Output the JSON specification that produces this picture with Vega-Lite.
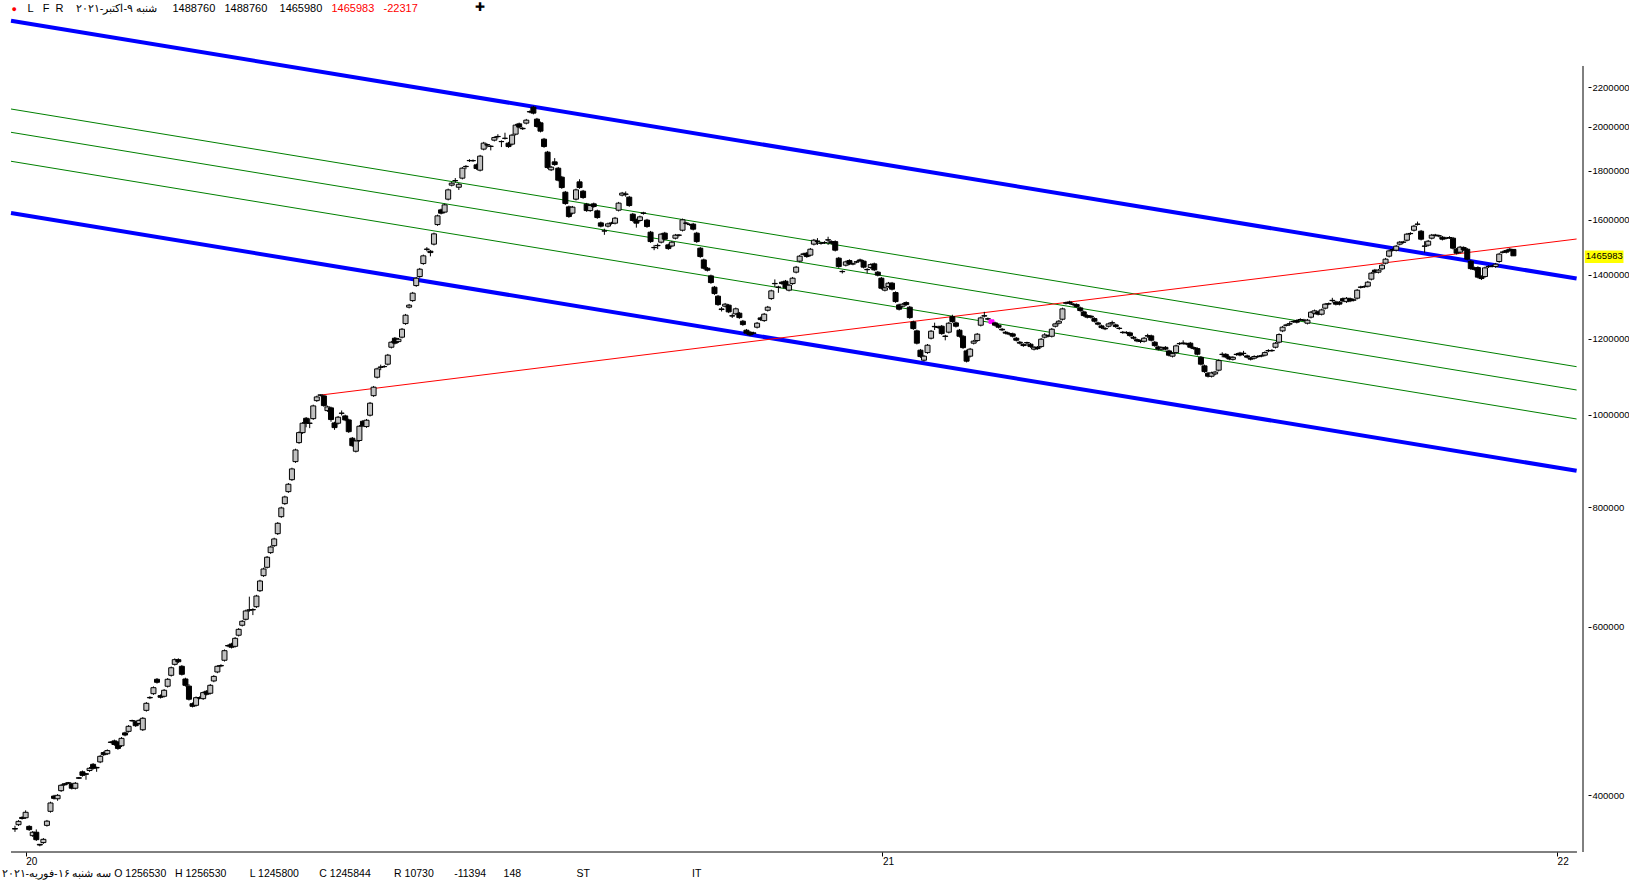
{
"$schema": "https://vega.github.io/schema/vega-lite/v6.json",
"width": 1582,
"height": 835,
"autosize": {"type": "none"},
"padding": {"left": 6, "top": 17, "right": 41, "bottom": 29},
"background": "white",
"config": {"view": {"stroke": null}, "font": "Liberation Sans"},
"resolve": {"scale": {"x": "shared", "y": "shared"}, "axis": {"x": "independent", "y": "independent"}},
"datasets": {
"lines": [
{"line": "upper", "g": "blue", "i": -1.12, "v": 2583000}, {"line": "upper", "g": "blue", "i": 439.8, "v": 1388000},
{"line": "lower", "g": "blue", "i": -1.12, "v": 1625500}, {"line": "lower", "g": "blue", "i": 439.8, "v": 873500},
{"line": "g1", "g": "green", "i": -1.12, "v": 2088000}, {"line": "g1", "g": "green", "i": 439.8, "v": 1122400},
{"line": "g2", "g": "green", "i": -1.12, "v": 1974000}, {"line": "g2", "g": "green", "i": 439.8, "v": 1061200},
{"line": "g3", "g": "green", "i": -1.12, "v": 1841000}, {"line": "g3", "g": "green", "i": 439.8, "v": 989600},
{"line": "red", "g": "red", "i": 86.3, "v": 1048500}, {"line": "red", "g": "red", "i": 439.8, "v": 1526600}
],
"last": [{"v": 1465983}],
"candles": [
{"i":0,"o":369000,"h":371500,"l":366000,"c":368500},
{"i":1,"o":372400,"h":376500,"l":371300,"c":375400},
{"i":2,"o":379000,"h":380000,"l":377000,"c":378000},
{"i":3,"o":378700,"h":385500,"l":377600,"c":383700},
{"i":4,"o":370900,"h":371900,"l":366900,"c":368000},
{"i":5,"o":362700,"h":366800,"l":361600,"c":365700},
{"i":6,"o":365700,"h":368200,"l":358100,"c":359200},
{"i":7,"o":355200,"h":355500,"l":353500,"c":354600},
{"i":8,"o":356700,"h":360600,"l":355600,"c":359500},
{"i":9,"o":371800,"h":376700,"l":370700,"c":375600},
{"i":10,"o":384600,"h":393600,"l":383400,"c":392400},
{"i":11,"o":399000,"h":400200,"l":395600,"c":396800},
{"i":12,"o":396400,"h":400900,"l":394500,"c":399700},
{"i":13,"o":404200,"h":410700,"l":403000,"c":409500},
{"i":14,"o":411000,"h":411800,"l":409000,"c":410000},
{"i":15,"o":412000,"h":412800,"l":410700,"c":411500},
{"i":16,"o":410800,"h":412000,"l":405400,"c":406600},
{"i":17,"o":406600,"h":412700,"l":405400,"c":411500},
{"i":18,"o":417000,"h":417800,"l":415700,"c":416500},
{"i":19,"o":423000,"h":424300,"l":418100,"c":419400},
{"i":20,"o":421000,"h":421800,"l":415000,"c":420500},
{"i":21,"o":424300,"h":427900,"l":423000,"c":426600},
{"i":22,"o":430700,"h":432000,"l":425300,"c":426600},
{"i":23,"o":427500,"h":428300,"l":423000,"c":427000},
{"i":24,"o":433200,"h":440400,"l":431900,"c":439100},
{"i":25,"o":443100,"h":444400,"l":439500,"c":440800},
{"i":26,"o":441800,"h":446500,"l":440500,"c":445200},
{"i":27,"o":454500,"h":455400,"l":453100,"c":454000},
{"i":28,"o":455700,"h":457100,"l":450400,"c":451800},
{"i":29,"o":454300,"h":455700,"l":446000,"c":447500},
{"i":30,"o":450400,"h":459900,"l":449000,"c":458500},
{"i":31,"o":464600,"h":466000,"l":460800,"c":462200},
{"i":32,"o":466300,"h":473400,"l":464900,"c":472000},
{"i":33,"o":478600,"h":479600,"l":477200,"c":478200},
{"i":34,"o":477300,"h":478700,"l":471300,"c":472700},
{"i":35,"o":475200,"h":480200,"l":473800,"c":478800},
{"i":36,"o":468100,"h":482600,"l":466700,"c":481200},
{"i":37,"o":490500,"h":500400,"l":489000,"c":498900},
{"i":38,"o":506000,"h":507500,"l":504000,"c":505500},
{"i":39,"o":510600,"h":519600,"l":509100,"c":518000},
{"i":40,"o":528600,"h":530200,"l":523200,"c":524800},
{"i":41,"o":508200,"h":509700,"l":504700,"c":506200},
{"i":42,"o":507400,"h":516300,"l":505900,"c":514800},
{"i":43,"o":519800,"h":530200,"l":518200,"c":528600},
{"i":44,"o":533700,"h":545100,"l":532100,"c":543500},
{"i":45,"o":548000,"h":555900,"l":546400,"c":554200},
{"i":46,"o":554200,"h":556000,"l":549700,"c":551400},
{"i":47,"o":545400,"h":547000,"l":533400,"c":535000},
{"i":48,"o":529000,"h":530600,"l":519400,"c":521000},
{"i":49,"o":520000,"h":522500,"l":502300,"c":503800},
{"i":50,"o":498400,"h":499900,"l":494000,"c":495300},
{"i":51,"o":496500,"h":507200,"l":495000,"c":505700},
{"i":52,"o":505800,"h":507300,"l":503700,"c":505200},
{"i":53,"o":504500,"h":513400,"l":503000,"c":511900},
{"i":54,"o":513600,"h":515100,"l":508400,"c":509900},
{"i":55,"o":511100,"h":522600,"l":509600,"c":521000},
{"i":56,"o":526500,"h":533900,"l":524900,"c":532300},
{"i":57,"o":538000,"h":547000,"l":536400,"c":545400},
{"i":58,"o":546500,"h":548100,"l":544300,"c":545900},
{"i":59,"o":553400,"h":568000,"l":551700,"c":566300},
{"i":60,"o":573400,"h":575100,"l":571100,"c":572800},
{"i":61,"o":575500,"h":577200,"l":569300,"c":571000},
{"i":62,"o":572300,"h":585200,"l":570600,"c":583400},
{"i":63,"o":587800,"h":598000,"l":586000,"c":596200},
{"i":64,"o":602100,"h":609700,"l":600300,"c":607900},
{"i":65,"o":610800,"h":625100,"l":609000,"c":623200},
{"i":66,"o":624800,"h":645000,"l":622000,"c":624400},
{"i":67,"o":625300,"h":627200,"l":617000,"c":624800},
{"i":68,"o":629600,"h":647900,"l":627700,"c":646000},
{"i":69,"o":654300,"h":671800,"l":652300,"c":669800},
{"i":70,"o":678500,"h":691600,"l":676500,"c":689500},
{"i":71,"o":692300,"h":711400,"l":690200,"c":709300},
{"i":72,"o":717200,"h":729200,"l":715000,"c":727000},
{"i":73,"o":729300,"h":743400,"l":727100,"c":741200},
{"i":74,"o":750700,"h":772000,"l":748400,"c":769700},
{"i":75,"o":782100,"h":801100,"l":779800,"c":798700},
{"i":76,"o":807000,"h":822600,"l":804600,"c":820100},
{"i":77,"o":830700,"h":848100,"l":828200,"c":845600},
{"i":78,"o":855000,"h":880000,"l":852400,"c":877400},
{"i":79,"o":893000,"h":921200,"l":890300,"c":918400},
{"i":80,"o":934800,"h":960500,"l":932000,"c":957600},
{"i":81,"o":957600,"h":982400,"l":954700,"c":979500},
{"i":82,"o":991300,"h":994300,"l":970000,"c":979500},
{"i":83,"o":979800,"h":991000,"l":968000,"c":979200},
{"i":84,"o":990400,"h":1024300,"l":987400,"c":1021200},
{"i":85,"o":1034300,"h":1046700,"l":1031200,"c":1043600},
{"i":86,"o":1048500,"h":1050000,"l":1045000,"c":1048000},
{"i":87,"o":1046100,"h":1049200,"l":1018900,"c":1022000},
{"i":88,"o":1009700,"h":1021900,"l":1006700,"c":1018800},
{"i":89,"o":1016400,"h":1019400,"l":983000,"c":988200},
{"i":90,"o":980200,"h":983100,"l":964000,"c":969200},
{"i":91,"o":979500,"h":996800,"l":976600,"c":993800},
{"i":92,"o":1003600,"h":1010000,"l":998000,"c":1003200},
{"i":93,"o":996900,"h":999900,"l":984300,"c":987300},
{"i":94,"o":987300,"h":990300,"l":956900,"c":959800},
{"i":95,"o":944700,"h":947500,"l":925200,"c":928000},
{"i":96,"o":915600,"h":941300,"l":912900,"c":938500},
{"i":97,"o":939600,"h":975300,"l":936800,"c":972400},
{"i":98,"o":984200,"h":987200,"l":970300,"c":973200},
{"i":99,"o":971600,"h":989600,"l":968700,"c":986600},
{"i":100,"o":998600,"h":1031000,"l":995600,"c":1027900},
{"i":101,"o":1046800,"h":1071500,"l":1043700,"c":1068300},
{"i":102,"o":1094300,"h":1119800,"l":1091000,"c":1116500},
{"i":103,"o":1121500,"h":1128000,"l":1113000,"c":1120800},
{"i":104,"o":1123000,"h":1126400,"l":1119600,"c":1122500},
{"i":105,"o":1129200,"h":1157500,"l":1125800,"c":1154000},
{"i":106,"o":1176300,"h":1194200,"l":1172800,"c":1190600},
{"i":107,"o":1202100,"h":1205700,"l":1184200,"c":1187800},
{"i":108,"o":1192300,"h":1202800,"l":1188700,"c":1199200},
{"i":109,"o":1205100,"h":1232100,"l":1201500,"c":1228400},
{"i":110,"o":1245200,"h":1274500,"l":1241500,"c":1270700},
{"i":111,"o":1295400,"h":1305600,"l":1291500,"c":1301700},
{"i":112,"o":1316100,"h":1343900,"l":1312200,"c":1339900},
{"i":113,"o":1364600,"h":1393300,"l":1360500,"c":1389100},
{"i":114,"o":1394600,"h":1423800,"l":1390400,"c":1419500},
{"i":115,"o":1438900,"h":1470300,"l":1434600,"c":1465900},
{"i":116,"o":1490000,"h":1497000,"l":1482000,"c":1489000},
{"i":117,"o":1482500,"h":1487000,"l":1464000,"c":1477500},
{"i":118,"o":1507800,"h":1550200,"l":1503300,"c":1545600},
{"i":119,"o":1580600,"h":1618900,"l":1575900,"c":1614100},
{"i":120,"o":1637600,"h":1642500,"l":1619700,"c":1624600},
{"i":121,"o":1628800,"h":1662500,"l":1623900,"c":1657500},
{"i":122,"o":1680300,"h":1723600,"l":1675300,"c":1718400},
{"i":123,"o":1738000,"h":1751600,"l":1732800,"c":1746400},
{"i":124,"o":1757500,"h":1768000,"l":1748000,"c":1756500},
{"i":125,"o":1729300,"h":1747000,"l":1718000,"c":1741800},
{"i":126,"o":1767600,"h":1816000,"l":1762300,"c":1810600},
{"i":127,"o":1818500,"h":1824000,"l":1806000,"c":1817500},
{"i":128,"o":1844500,"h":1850000,"l":1838000,"c":1843500},
{"i":129,"o":1844000,"h":1849000,"l":1838000,"c":1843500},
{"i":130,"o":1825200,"h":1830700,"l":1803600,"c":1809000},
{"i":131,"o":1801900,"h":1869500,"l":1796500,"c":1863900},
{"i":132,"o":1895700,"h":1929000,"l":1890000,"c":1923200},
{"i":133,"o":1916000,"h":1921000,"l":1903000,"c":1914500},
{"i":134,"o":1909000,"h":1914000,"l":1890000,"c":1908000},
{"i":135,"o":1937000,"h":1955000,"l":1931200,"c":1949200},
{"i":136,"o":1954500,"h":1965000,"l":1945000,"c":1953500},
{"i":137,"o":1931000,"h":1936000,"l":1905000,"c":1930000},
{"i":138,"o":1946000,"h":1972000,"l":1940000,"c":1945500},
{"i":139,"o":1923200,"h":1929000,"l":1901600,"c":1907300},
{"i":140,"o":1918500,"h":1966500,"l":1912700,"c":1960600},
{"i":141,"o":1965300,"h":2014400,"l":1959400,"c":2008400},
{"i":142,"o":2014700,"h":2020700,"l":1992900,"c":1998900},
{"i":143,"o":1993000,"h":1999000,"l":1985000,"c":1991000},
{"i":144,"o":2018100,"h":2038700,"l":2012000,"c":2032600},
{"i":145,"o":2075000,"h":2081000,"l":2067000,"c":2073000},
{"i":146,"o":2097500,"h":2104000,"l":2061100,"c":2067300},
{"i":147,"o":2037600,"h":2043700,"l":1995800,"c":2001800},
{"i":148,"o":2019600,"h":2025700,"l":1973600,"c":1979500},
{"i":149,"o":1941700,"h":1947500,"l":1901800,"c":1907500},
{"i":150,"o":1881900,"h":1887500,"l":1807900,"c":1813300},
{"i":151,"o":1803400,"h":1820400,"l":1798000,"c":1815000},
{"i":152,"o":1838400,"h":1855000,"l":1821000,"c":1826500},
{"i":153,"o":1810600,"h":1816000,"l":1753700,"c":1759000},
{"i":154,"o":1771800,"h":1777100,"l":1722800,"c":1728000},
{"i":155,"o":1708900,"h":1714000,"l":1657700,"c":1662700},
{"i":156,"o":1649500,"h":1654400,"l":1606600,"c":1611400},
{"i":157,"o":1624600,"h":1653200,"l":1619700,"c":1648300},
{"i":158,"o":1680300,"h":1723600,"l":1675300,"c":1718400},
{"i":159,"o":1751900,"h":1763000,"l":1722800,"c":1728000},
{"i":160,"o":1713100,"h":1718200,"l":1681800,"c":1686900},
{"i":161,"o":1660300,"h":1665300,"l":1629900,"c":1634800},
{"i":162,"o":1634800,"h":1660000,"l":1629900,"c":1655000},
{"i":163,"o":1661500,"h":1666500,"l":1645800,"c":1650800},
{"i":164,"o":1633600,"h":1638500,"l":1602700,"c":1607500},
{"i":165,"o":1587100,"h":1591900,"l":1569900,"c":1574600},
{"i":166,"o":1557000,"h":1565000,"l":1542000,"c":1556000},
{"i":167,"o":1574600,"h":1588100,"l":1569900,"c":1583300},
{"i":168,"o":1586500,"h":1591300,"l":1580700,"c":1585500},
{"i":169,"o":1586000,"h":1610000,"l":1581200,"c":1605200},
{"i":170,"o":1636300,"h":1669300,"l":1631400,"c":1664300},
{"i":171,"o":1696700,"h":1710000,"l":1691600,"c":1704900},
{"i":172,"o":1701300,"h":1712000,"l":1690000,"c":1700300},
{"i":173,"o":1688500,"h":1693600,"l":1649700,"c":1654700},
{"i":174,"o":1620700,"h":1625600,"l":1591400,"c":1596200},
{"i":175,"o":1598900,"h":1603700,"l":1569000,"c":1586000},
{"i":176,"o":1596200,"h":1615100,"l":1591400,"c":1610300},
{"i":177,"o":1625500,"h":1630000,"l":1619000,"c":1624000},
{"i":178,"o":1597700,"h":1602500,"l":1568400,"c":1573100},
{"i":179,"o":1551900,"h":1556600,"l":1512600,"c":1517200},
{"i":180,"o":1496000,"h":1505000,"l":1486000,"c":1495000},
{"i":181,"o":1503200,"h":1510000,"l":1490000,"c":1502200},
{"i":182,"o":1515000,"h":1549100,"l":1510500,"c":1544500},
{"i":183,"o":1548300,"h":1553000,"l":1521400,"c":1526000},
{"i":184,"o":1505200,"h":1509700,"l":1487300,"c":1491800},
{"i":185,"o":1501200,"h":1519500,"l":1496700,"c":1515000},
{"i":186,"o":1529600,"h":1545400,"l":1525000,"c":1540800},
{"i":187,"o":1541000,"h":1545000,"l":1536000,"c":1540500},
{"i":188,"o":1559300,"h":1603700,"l":1554600,"c":1598900},
{"i":189,"o":1586500,"h":1591000,"l":1581000,"c":1585500},
{"i":190,"o":1581000,"h":1585500,"l":1576000,"c":1580500},
{"i":191,"o":1582200,"h":1587000,"l":1558500,"c":1563200},
{"i":192,"o":1548300,"h":1553000,"l":1512600,"c":1517200},
{"i":193,"o":1493200,"h":1497700,"l":1459000,"c":1463400},
{"i":194,"o":1451600,"h":1456000,"l":1418600,"c":1422900},
{"i":195,"o":1422900,"h":1427200,"l":1411800,"c":1416000},
{"i":196,"o":1396900,"h":1401100,"l":1370400,"c":1374500},
{"i":197,"o":1359300,"h":1363400,"l":1334600,"c":1338600},
{"i":198,"o":1330200,"h":1334200,"l":1299600,"c":1303500},
{"i":199,"o":1290000,"h":1296000,"l":1282000,"c":1288000},
{"i":200,"o":1298500,"h":1308700,"l":1294600,"c":1304800},
{"i":201,"o":1301700,"h":1305600,"l":1277000,"c":1280800},
{"i":202,"o":1269000,"h":1276000,"l":1262000,"c":1268000},
{"i":203,"o":1274700,"h":1294200,"l":1270900,"c":1290300},
{"i":204,"o":1276800,"h":1280600,"l":1259500,"c":1263300},
{"i":205,"o":1252400,"h":1256200,"l":1238500,"c":1242200},
{"i":206,"o":1225500,"h":1229200,"l":1213200,"c":1216800},
{"i":207,"o":1219700,"h":1223400,"l":1208200,"c":1211800},
{"i":208,"o":1217500,"h":1221000,"l":1213000,"c":1216500},
{"i":209,"o":1234400,"h":1250100,"l":1230700,"c":1246400},
{"i":210,"o":1262400,"h":1266200,"l":1253400,"c":1257200},
{"i":211,"o":1254200,"h":1277500,"l":1250400,"c":1273700},
{"i":212,"o":1285900,"h":1299300,"l":1282000,"c":1295400},
{"i":213,"o":1322500,"h":1351300,"l":1318500,"c":1347300},
{"i":214,"o":1371700,"h":1385000,"l":1360000,"c":1370700},
{"i":215,"o":1359800,"h":1364000,"l":1341000,"c":1358800},
{"i":216,"o":1375800,"h":1379900,"l":1367100,"c":1371200},
{"i":217,"o":1379100,"h":1383200,"l":1353000,"c":1357100},
{"i":218,"o":1349500,"h":1370000,"l":1345500,"c":1365900},
{"i":219,"o":1371200,"h":1393300,"l":1367100,"c":1389100},
{"i":220,"o":1409400,"h":1430800,"l":1405200,"c":1426500},
{"i":221,"o":1447200,"h":1469200,"l":1442900,"c":1464800},
{"i":222,"o":1472500,"h":1477000,"l":1467000,"c":1471500},
{"i":223,"o":1475400,"h":1479800,"l":1459000,"c":1463400},
{"i":224,"o":1468300,"h":1494000,"l":1463900,"c":1489500},
{"i":225,"o":1507800,"h":1526800,"l":1503300,"c":1522200},
{"i":226,"o":1519000,"h":1530000,"l":1505000,"c":1518000},
{"i":227,"o":1511800,"h":1516000,"l":1506000,"c":1510800},
{"i":228,"o":1514000,"h":1518500,"l":1508500,"c":1513000},
{"i":229,"o":1523700,"h":1535000,"l":1505000,"c":1522700},
{"i":230,"o":1517000,"h":1521600,"l":1506800,"c":1511300},
{"i":231,"o":1517000,"h":1521600,"l":1481500,"c":1486000},
{"i":232,"o":1457700,"h":1462100,"l":1424200,"c":1428500},
{"i":233,"o":1412000,"h":1416000,"l":1405000,"c":1411000},
{"i":234,"o":1433300,"h":1449100,"l":1429000,"c":1444800},
{"i":235,"o":1449300,"h":1453600,"l":1433600,"c":1437900},
{"i":236,"o":1438000,"h":1442000,"l":1433000,"c":1437500},
{"i":237,"o":1445000,"h":1449000,"l":1440000,"c":1444000},
{"i":238,"o":1451600,"h":1456000,"l":1443700,"c":1448000},
{"i":239,"o":1447200,"h":1451500,"l":1422200,"c":1426500},
{"i":240,"o":1418800,"h":1423000,"l":1405000,"c":1417800},
{"i":241,"o":1425200,"h":1439700,"l":1420900,"c":1435400},
{"i":242,"o":1437900,"h":1442200,"l":1413000,"c":1417300},
{"i":243,"o":1409400,"h":1413600,"l":1395100,"c":1399300},
{"i":244,"o":1389100,"h":1393300,"l":1351800,"c":1355900},
{"i":245,"o":1349500,"h":1361200,"l":1345500,"c":1357100},
{"i":246,"o":1361300,"h":1376600,"l":1357200,"c":1372500},
{"i":247,"o":1372500,"h":1376600,"l":1348700,"c":1352800},
{"i":248,"o":1341800,"h":1345800,"l":1309100,"c":1313000},
{"i":249,"o":1302600,"h":1306500,"l":1285200,"c":1289100},
{"i":250,"o":1298500,"h":1308700,"l":1294600,"c":1304800},
{"i":251,"o":1309800,"h":1313700,"l":1299600,"c":1303500},
{"i":252,"o":1295400,"h":1299300,"l":1259500,"c":1263300},
{"i":253,"o":1250300,"h":1254100,"l":1226600,"c":1230300},
{"i":254,"o":1223500,"h":1227200,"l":1184200,"c":1187800},
{"i":255,"o":1167900,"h":1171400,"l":1146600,"c":1150100},
{"i":256,"o":1140100,"h":1154700,"l":1136700,"c":1151200},
{"i":257,"o":1161200,"h":1185500,"l":1157700,"c":1182000},
{"i":258,"o":1202100,"h":1226300,"l":1198500,"c":1222600},
{"i":259,"o":1236800,"h":1248000,"l":1226000,"c":1235800},
{"i":260,"o":1235000,"h":1239000,"l":1229500,"c":1233500},
{"i":261,"o":1237300,"h":1241000,"l":1212000,"c":1215600},
{"i":262,"o":1208300,"h":1212000,"l":1196000,"c":1207300},
{"i":263,"o":1219700,"h":1250100,"l":1216000,"c":1246400},
{"i":264,"o":1266300,"h":1272000,"l":1247500,"c":1251300},
{"i":265,"o":1247300,"h":1251000,"l":1233600,"c":1237300},
{"i":266,"o":1225500,"h":1229200,"l":1204200,"c":1207800},
{"i":267,"o":1207800,"h":1211400,"l":1171700,"c":1175200},
{"i":268,"o":1165900,"h":1169400,"l":1134000,"c":1137400},
{"i":269,"o":1151200,"h":1174300,"l":1147700,"c":1170800},
{"i":270,"o":1187800,"h":1197200,"l":1184200,"c":1193600},
{"i":271,"o":1195300,"h":1217400,"l":1191700,"c":1213800},
{"i":272,"o":1240400,"h":1266200,"l":1236700,"c":1262400},
{"i":273,"o":1269000,"h":1281000,"l":1264000,"c":1268000},
{"i":274,"o":1259700,"h":1263500,"l":1255000,"c":1258700},
{"i":275,"o":1256530,"h":1256530,"l":1245800,"c":1245844},
{"i":276,"o":1247300,"h":1251000,"l":1236700,"c":1240400},
{"i":277,"o":1240400,"h":1244100,"l":1230700,"c":1234400},
{"i":278,"o":1228400,"h":1232100,"l":1222700,"c":1226400},
{"i":279,"o":1219700,"h":1223400,"l":1213200,"c":1216800},
{"i":280,"o":1216000,"h":1219600,"l":1210400,"c":1214000},
{"i":281,"o":1214700,"h":1218300,"l":1204400,"c":1208000},
{"i":282,"o":1202100,"h":1205700,"l":1192700,"c":1196300},
{"i":283,"o":1190600,"h":1194200,"l":1184200,"c":1187800},
{"i":284,"o":1183800,"h":1187400,"l":1177500,"c":1181000},
{"i":285,"o":1189500,"h":1192000,"l":1180000,"c":1188500},
{"i":286,"o":1184900,"h":1188500,"l":1174600,"c":1178100},
{"i":287,"o":1170800,"h":1179800,"l":1167300,"c":1176300},
{"i":288,"o":1176300,"h":1179800,"l":1168900,"c":1172400},
{"i":289,"o":1178100,"h":1202800,"l":1174600,"c":1199200},
{"i":290,"o":1205100,"h":1217000,"l":1201500,"c":1211800},
{"i":291,"o":1209500,"h":1213100,"l":1204900,"c":1208500},
{"i":292,"o":1207800,"h":1232100,"l":1204200,"c":1228400},
{"i":293,"o":1237300,"h":1248000,"l":1233600,"c":1244300},
{"i":294,"o":1246400,"h":1256200,"l":1242700,"c":1252400},
{"i":295,"o":1258400,"h":1294000,"l":1254600,"c":1290100},
{"i":296,"o":1309000,"h":1313000,"l":1304000,"c":1308000},
{"i":297,"o":1311700,"h":1315600,"l":1303700,"c":1307600},
{"i":298,"o":1305000,"h":1309000,"l":1298000,"c":1304000},
{"i":299,"o":1303500,"h":1307400,"l":1293400,"c":1297300},
{"i":300,"o":1293200,"h":1297100,"l":1281000,"c":1284900},
{"i":301,"o":1280800,"h":1284600,"l":1265700,"c":1269500},
{"i":302,"o":1269500,"h":1273300,"l":1260800,"c":1264600},
{"i":303,"o":1267700,"h":1271500,"l":1260800,"c":1264600},
{"i":304,"o":1260300,"h":1264100,"l":1248600,"c":1252400},
{"i":305,"o":1247300,"h":1251000,"l":1239700,"c":1243400},
{"i":306,"o":1238300,"h":1242000,"l":1229500,"c":1233200},
{"i":307,"o":1231000,"h":1234700,"l":1225800,"c":1229500},
{"i":308,"o":1237300,"h":1248000,"l":1233600,"c":1244300},
{"i":309,"o":1247800,"h":1254000,"l":1241000,"c":1246800},
{"i":310,"o":1241300,"h":1245000,"l":1232600,"c":1236300},
{"i":311,"o":1231500,"h":1235200,"l":1226800,"c":1230500},
{"i":312,"o":1219500,"h":1223200,"l":1214800,"c":1218500},
{"i":313,"o":1219000,"h":1222700,"l":1214300,"c":1218000},
{"i":314,"o":1217600,"h":1221300,"l":1206100,"c":1209700},
{"i":315,"o":1205100,"h":1208700,"l":1198500,"c":1202100},
{"i":316,"o":1198000,"h":1201600,"l":1190600,"c":1194200},
{"i":317,"o":1193500,"h":1198000,"l":1188000,"c":1192800},
{"i":318,"o":1193300,"h":1205700,"l":1189700,"c":1202100},
{"i":319,"o":1209500,"h":1215000,"l":1203000,"c":1208300},
{"i":320,"o":1208900,"h":1212500,"l":1192700,"c":1196300},
{"i":321,"o":1190600,"h":1194200,"l":1177400,"c":1180900},
{"i":322,"o":1177200,"h":1180700,"l":1167300,"c":1170800},
{"i":323,"o":1170800,"h":1178700,"l":1167300,"c":1175200},
{"i":324,"o":1176000,"h":1179500,"l":1167500,"c":1171000},
{"i":325,"o":1165900,"h":1169400,"l":1150400,"c":1153900},
{"i":326,"o":1151200,"h":1161900,"l":1147700,"c":1158400},
{"i":327,"o":1161200,"h":1183600,"l":1157700,"c":1180100},
{"i":328,"o":1187000,"h":1190600,"l":1182400,"c":1186000},
{"i":329,"o":1188300,"h":1196000,"l":1183000,"c":1187300},
{"i":330,"o":1186000,"h":1189600,"l":1181900,"c":1185500},
{"i":331,"o":1187800,"h":1191400,"l":1172800,"c":1176300},
{"i":332,"o":1175200,"h":1178700,"l":1168900,"c":1172400},
{"i":333,"o":1172400,"h":1175900,"l":1153200,"c":1156700},
{"i":334,"o":1148100,"h":1151500,"l":1125800,"c":1129200},
{"i":335,"o":1124600,"h":1128000,"l":1105900,"c":1109200},
{"i":336,"o":1105000,"h":1108300,"l":1093600,"c":1096900},
{"i":337,"o":1096900,"h":1109000,"l":1093600,"c":1105700},
{"i":338,"o":1103000,"h":1111300,"l":1099700,"c":1108000},
{"i":339,"o":1113000,"h":1142400,"l":1109700,"c":1139000},
{"i":340,"o":1156600,"h":1162000,"l":1148000,"c":1155800},
{"i":341,"o":1156200,"h":1159700,"l":1145500,"c":1148900},
{"i":342,"o":1148900,"h":1152300,"l":1140000,"c":1143400},
{"i":343,"o":1142600,"h":1151500,"l":1139200,"c":1148100},
{"i":344,"o":1156500,"h":1160000,"l":1152300,"c":1155800},
{"i":345,"o":1159800,"h":1163300,"l":1150800,"c":1154300},
{"i":346,"o":1159300,"h":1166000,"l":1152000,"c":1158500},
{"i":347,"o":1152000,"h":1155500,"l":1145000,"c":1148400},
{"i":348,"o":1145600,"h":1149000,"l":1139500,"c":1142900},
{"i":349,"o":1145600,"h":1153700,"l":1142200,"c":1150200},
{"i":350,"o":1150500,"h":1154000,"l":1146300,"c":1149800},
{"i":351,"o":1152300,"h":1155800,"l":1148100,"c":1151600},
{"i":352,"o":1154000,"h":1164700,"l":1150500,"c":1161200},
{"i":353,"o":1167000,"h":1170500,"l":1162500,"c":1166000},
{"i":354,"o":1167200,"h":1170700,"l":1163000,"c":1166500},
{"i":355,"o":1176300,"h":1191400,"l":1172800,"c":1187800},
{"i":356,"o":1190600,"h":1216300,"l":1187000,"c":1212700},
{"i":357,"o":1223500,"h":1238200,"l":1219800,"c":1234500},
{"i":358,"o":1240900,"h":1244600,"l":1236400,"c":1240100},
{"i":359,"o":1244800,"h":1252000,"l":1238000,"c":1243800},
{"i":360,"o":1251600,"h":1255400,"l":1247000,"c":1250800},
{"i":361,"o":1254200,"h":1258000,"l":1245700,"c":1249400},
{"i":362,"o":1257500,"h":1261300,"l":1253000,"c":1256800},
{"i":363,"o":1255800,"h":1259600,"l":1251200,"c":1255000},
{"i":364,"o":1246400,"h":1259200,"l":1242700,"c":1255400},
{"i":365,"o":1264600,"h":1283700,"l":1260800,"c":1279900},
{"i":366,"o":1276800,"h":1287900,"l":1273000,"c":1284000},
{"i":367,"o":1280800,"h":1284600,"l":1269900,"c":1273700},
{"i":368,"o":1273700,"h":1290800,"l":1269900,"c":1286900},
{"i":369,"o":1292300,"h":1308700,"l":1288400,"c":1304800},
{"i":370,"o":1306200,"h":1310100,"l":1301600,"c":1305500},
{"i":371,"o":1317000,"h":1325000,"l":1310000,"c":1316000},
{"i":372,"o":1311700,"h":1315600,"l":1300900,"c":1304800},
{"i":373,"o":1311000,"h":1314900,"l":1301100,"c":1305000},
{"i":374,"o":1322200,"h":1326200,"l":1311000,"c":1314900},
{"i":375,"o":1312800,"h":1327500,"l":1308900,"c":1323500},
{"i":376,"o":1322000,"h":1326000,"l":1311100,"c":1315000},
{"i":377,"o":1318500,"h":1322500,"l":1313500,"c":1317500},
{"i":378,"o":1323800,"h":1353500,"l":1319800,"c":1349500},
{"i":379,"o":1359800,"h":1364000,"l":1355000,"c":1359000},
{"i":380,"o":1361500,"h":1365600,"l":1356700,"c":1360800},
{"i":381,"o":1362600,"h":1380000,"l":1358500,"c":1375800},
{"i":382,"o":1385900,"h":1410200,"l":1381700,"c":1406000},
{"i":383,"o":1416300,"h":1420500,"l":1405200,"c":1409400},
{"i":384,"o":1409400,"h":1420500,"l":1405200,"c":1416300},
{"i":385,"o":1420600,"h":1437600,"l":1416300,"c":1433300},
{"i":386,"o":1440300,"h":1458600,"l":1436000,"c":1454200},
{"i":387,"o":1464800,"h":1488000,"l":1460400,"c":1483500},
{"i":388,"o":1488000,"h":1492500,"l":1481500,"c":1486000},
{"i":389,"o":1486000,"h":1505000,"l":1481500,"c":1500500},
{"i":390,"o":1507800,"h":1519500,"l":1503300,"c":1515000},
{"i":391,"o":1515500,"h":1520000,"l":1510300,"c":1514800},
{"i":392,"o":1522200,"h":1549100,"l":1517600,"c":1544500},
{"i":393,"o":1547200,"h":1551800,"l":1541800,"c":1546400},
{"i":394,"o":1559300,"h":1579300,"l":1554600,"c":1574600},
{"i":395,"o":1582500,"h":1592000,"l":1577000,"c":1581700},
{"i":396,"o":1555600,"h":1560300,"l":1521300,"c":1525900},
{"i":397,"o":1501000,"h":1518500,"l":1477500,"c":1500200},
{"i":398,"o":1504100,"h":1523100,"l":1499600,"c":1518500},
{"i":399,"o":1529600,"h":1545400,"l":1525000,"c":1540800},
{"i":400,"o":1541000,"h":1545600,"l":1535700,"c":1540300},
{"i":401,"o":1538600,"h":1543200,"l":1533200,"c":1537800},
{"i":402,"o":1533300,"h":1537900,"l":1521300,"c":1525900},
{"i":403,"o":1530000,"h":1534600,"l":1524700,"c":1529300},
{"i":404,"o":1532200,"h":1536800,"l":1527000,"c":1531500},
{"i":405,"o":1529600,"h":1534200,"l":1488700,"c":1493200},
{"i":406,"o":1489500,"h":1494000,"l":1471000,"c":1475400},
{"i":407,"o":1479000,"h":1501400,"l":1474600,"c":1496900},
{"i":408,"o":1495400,"h":1499900,"l":1482600,"c":1487100},
{"i":409,"o":1489500,"h":1494000,"l":1449800,"c":1454200},
{"i":410,"o":1447200,"h":1451500,"l":1417200,"c":1421500},
{"i":411,"o":1424000,"h":1428300,"l":1414700,"c":1419000},
{"i":412,"o":1425200,"h":1429500,"l":1388400,"c":1392600},
{"i":413,"o":1394600,"h":1398800,"l":1383000,"c":1387900},
{"i":414,"o":1394600,"h":1428300,"l":1390400,"c":1424000},
{"i":415,"o":1429000,"h":1433300,"l":1423700,"c":1428000},
{"i":416,"o":1430300,"h":1434600,"l":1425200,"c":1429500},
{"i":417,"o":1428500,"h":1441100,"l":1424200,"c":1436800},
{"i":418,"o":1446000,"h":1476400,"l":1441700,"c":1472000},
{"i":419,"o":1479500,"h":1484000,"l":1474200,"c":1478600},
{"i":420,"o":1484600,"h":1489100,"l":1474600,"c":1479000},
{"i":421,"o":1489500,"h":1494000,"l":1480100,"c":1484600},
{"i":422,"o":1488760,"h":1488760,"l":1465980,"c":1465983}
]
},
"layer": [
{"data": {"name": "lines"}, "transform": [{"filter": "datum.g == 'blue'"}],
"mark": {"type": "line", "color": "#0000ff", "strokeWidth": 4},
"encoding": {
"x": {"field": "i", "type": "quantitative", "scale": {"domain": [-1.12, 441.6], "nice": false, "zero": false},
"axis": {"orient": "bottom", "values": [3.02, 244.3, 434.3], "labelExpr": "datum.value < 100 ? '20' : (datum.value < 300 ? '21' : '22')", "labelAlign": "left", "labelFlush": false, "labelFontSize": 10, "labelColor": "#000000", "labelPadding": 0, "tickSize": 4, "tickColor": "#000000", "domain": false, "grid": false,
"title": "سه شنبه ۱۶-فوریه-۲۰۲۱\u200e\u00a0O 1256530\u00a0\u00a0\u00a0H 1256530\u00a0\u00a0\u00a0\u00a0\u00a0\u00a0\u00a0\u00a0L 1245800\u00a0\u00a0\u00a0\u00a0\u00a0\u00a0\u00a0C 1245844\u00a0\u00a0\u00a0\u00a0\u00a0\u00a0\u00a0\u00a0R 10730\u00a0\u00a0\u00a0\u00a0\u00a0\u00a0\u00a0-11394\u00a0\u00a0\u00a0\u00a0\u00a0\u00a0148\u00a0\u00a0\u00a0\u00a0\u00a0\u00a0\u00a0\u00a0\u00a0\u00a0\u00a0\u00a0\u00a0\u00a0\u00a0\u00a0\u00a0\u00a0\u00a0ST\u00a0\u00a0\u00a0\u00a0\u00a0\u00a0\u00a0\u00a0\u00a0\u00a0\u00a0\u00a0\u00a0\u00a0\u00a0\u00a0\u00a0\u00a0\u00a0\u00a0\u00a0\u00a0\u00a0\u00a0\u00a0\u00a0\u00a0\u00a0\u00a0\u00a0\u00a0\u00a0\u00a0\u00a0\u00a0IT",
"titleFontSize": 10.5, "titleFontWeight": "normal", "titleColor": "#000000", "titleAnchor": "start", "titleAlign": "left", "titleX": -5, "titleY": 24, "titleBaseline": "alphabetic"}},
"y": {"field": "v", "type": "quantitative", "scale": {"type": "log", "domain": [348700, 2606000], "nice": false},
"axis": {"orient": "right", "values": [400000, 600000, 800000, 1000000, 1200000, 1400000, 1600000, 1800000, 2000000, 2200000], "format": "d", "grid": false, "domain": false, "tickSize": 3, "tickColor": "#000000", "labelPadding": 1, "labelFontSize": 9.5, "labelColor": "#000000",
"title": "1465983\u00a0\u00a0\u00a0-22317", "titleAngle": 0, "titleAlign": "left", "titleBaseline": "alphabetic", "titleX": -1257, "titleY": -5.5, "titleFontSize": 11, "titleFontWeight": "normal", "titleColor": "#ff0000"}},
"detail": {"field": "line"}}},
{"data": {"name": "lines"}, "transform": [{"filter": "datum.g == 'green'"}],
"mark": {"type": "line", "color": "#008000", "strokeWidth": 1},
"encoding": {
"x": {"field": "i", "type": "quantitative", "scale": {"domain": [-1.12, 441.6], "nice": false, "zero": false},
"axis": {"orient": "top", "domain": false, "ticks": false, "labels": false, "grid": false,
"title": "L\u00a0\u00a0\u00a0F\u00a0\u00a0R\u00a0\u00a0\u00a0\u00a0شنبه ۹-اکتبر-۲۰۲۱\u200e\u00a0\u00a0\u00a0\u00a0\u00a01488760\u00a0\u00a0\u00a01488760\u00a0\u00a0\u00a0\u00a01465980", "titleAnchor": "start", "titleAlign": "left", "titleBaseline": "alphabetic", "titleX": 21, "titleY": -5.5, "titleFontSize": 11, "titleFontWeight": "normal", "titleColor": "#000000"}},
"y": {"field": "v", "type": "quantitative", "scale": {"type": "log", "domain": [348700, 2606000], "nice": false},
"axis": {"orient": "left", "domain": false, "ticks": false, "labels": false, "grid": false,
"title": "●", "titleAngle": 0, "titleAlign": "left", "titleBaseline": "alphabetic", "titleX": 5, "titleY": -6, "titleFontSize": 9, "titleFontWeight": "normal", "titleColor": "#ff0000"}},
"detail": {"field": "line"}}},
{"data": {"name": "lines"}, "transform": [{"filter": "datum.g == 'red'"}],
"mark": {"type": "line", "color": "#ff0000", "strokeWidth": 1},
"encoding": {"x": {"field": "i", "type": "quantitative", "scale": {"domain": [-1.12, 441.6], "nice": false, "zero": false}, "axis": null}, "y": {"field": "v", "type": "quantitative", "scale": {"type": "log", "domain": [348700, 2606000], "nice": false}, "axis": null}, "detail": {"field": "line"}}},
{"data": {"name": "candles"},
"mark": {"type": "rule", "strokeWidth": 1},
"encoding": {"x": {"field": "i", "type": "quantitative", "scale": {"domain": [-1.12, 441.6], "nice": false, "zero": false}, "axis": null}, "y": {"field": "l", "type": "quantitative", "scale": {"type": "log", "domain": [348700, 2606000], "nice": false}, "axis": null}, "y2": {"field": "h"},
"color": {"condition": {"test": "datum.i == 275", "value": "#ff00ff"}, "value": "#000000"}}},
{"data": {"name": "candles"},
"mark": {"type": "bar", "size": 5, "strokeWidth": 1},
"encoding": {"x": {"field": "i", "type": "quantitative", "scale": {"domain": [-1.12, 441.6], "nice": false, "zero": false}, "axis": null}, "y": {"field": "o", "type": "quantitative", "scale": {"type": "log", "domain": [348700, 2606000], "nice": false}, "axis": null}, "y2": {"field": "c"},
"fill": {"condition": [{"test": "datum.i == 275", "value": "#ff00ff"}, {"test": "datum.c > datum.o", "value": "#c0c0c0"}], "value": "#000000"},
"stroke": {"condition": {"test": "datum.i == 275", "value": "#ff00ff"}, "value": "#000000"}}},
{"data": {"name": "last"},
"mark": {"type": "rule", "color": "#000000", "strokeWidth": 1},
"encoding": {"x": {"datum": 441.6, "type": "quantitative", "scale": {"domain": [-1.12, 441.6], "nice": false, "zero": false}, "axis": null}, "y": {"datum": 2316000, "type": "quantitative", "scale": {"type": "log", "domain": [348700, 2606000], "nice": false}, "axis": null}, "y2": {"datum": 348700}}},
{"data": {"name": "last"},
"mark": {"type": "rule", "color": "#000000", "strokeWidth": 1},
"encoding": {"x": {"datum": -1.12, "type": "quantitative", "scale": {"domain": [-1.12, 441.6], "nice": false, "zero": false}, "axis": null}, "x2": {"datum": 439.9}, "y": {"datum": 348700, "type": "quantitative", "scale": {"type": "log", "domain": [348700, 2606000], "nice": false}, "axis": null}}},
{"data": {"name": "last"},
"mark": {"type": "rect", "color": "#ffff00"},
"encoding": {"x": {"datum": 442.1, "type": "quantitative", "scale": {"domain": [-1.12, 441.6], "nice": false, "zero": false}, "axis": null}, "x2": {"datum": 453.0}, "y": {"datum": 1485100, "type": "quantitative", "scale": {"type": "log", "domain": [348700, 2606000], "nice": false}, "axis": null}, "y2": {"datum": 1441000}}},
{"data": {"name": "last"},
"mark": {"type": "text", "fontSize": 9.5, "align": "center", "baseline": "middle", "color": "#000000"},
"encoding": {"x": {"datum": 447.6, "type": "quantitative", "scale": {"domain": [-1.12, 441.6], "nice": false, "zero": false}, "axis": null}, "y": {"field": "v", "type": "quantitative", "scale": {"type": "log", "domain": [348700, 2606000], "nice": false}, "axis": null}, "text": {"field": "v", "type": "quantitative", "format": "d"}}},
{"data": {"name": "last"},
"mark": {"type": "text", "fontSize": 12, "align": "center", "baseline": "middle", "color": "#000000", "text": "✚"},
"encoding": {"x": {"datum": 131.1, "type": "quantitative", "scale": {"domain": [-1.12, 441.6], "nice": false, "zero": false}, "axis": null}, "y": {"datum": 2666900, "type": "quantitative", "scale": {"type": "log", "domain": [348700, 2606000], "nice": false}, "axis": null}}}
]
}
